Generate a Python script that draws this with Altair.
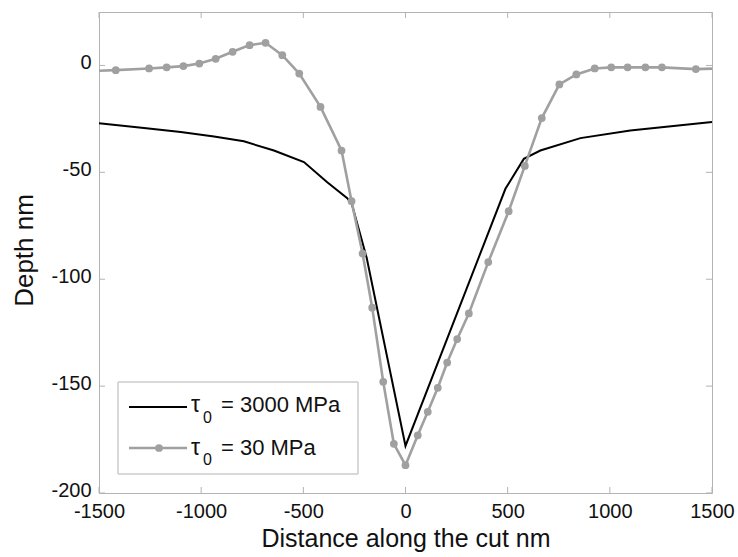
import altair as alt
import pandas as pd

# ---------------- data ----------------
x_ticks = [-1500, -1000, -500, 0, 500, 1000, 1500]
y_ticks = [-200, -150, -100, -50, 0]

black_x = [-1500, -1280, -1100, -937, -791, -644, -497, -383, -285, -262, -190,
           0, 489, 579, 660, 856, 1100, 1500]
black_y = [-27.0, -29.3, -31.1, -33.2, -35.5, -39.8, -45.2, -54.6, -62.1, -65.0, -90.0,
           -178.0, -57.7, -43.7, -39.8, -34.0, -30.4, -26.4]

gray_x = [-1500, -1418, -1255, -1169, -1087, -1009, -929, -846, -763, -685, -603,
          -520, -416, -313, -264, -210, -163, -109, -57, 0,
          60, 109, 158, 204, 253, 310, 405, 505, 584, 667, 753, 836, 926,
          1007, 1087, 1174, 1255, 1421, 1500]
gray_y = [-2.5, -2.2, -1.4, -0.9, -0.3, 0.9, 3.1, 6.4, 9.5, 10.6, 4.8,
          -3.8, -19.4, -39.8, -63.5, -88.0, -113.3, -148.0, -177.0, -187.0,
          -173.0, -162.0, -150.8, -139.0, -128.0, -116.0, -92.0, -68.2, -47.0, -24.6, -8.9, -4.2, -1.4,
          -0.9, -0.9, -0.9, -0.9, -1.7, -1.5]
gray_marker = [False] + [True] * (len(gray_x) - 2) + [False]

legend_labels = ["= 3000 MPa", "= 30 MPa"]

# ---------------- styles ----------------
W, H = 613, 481
FONT = "Liberation Sans"
GRAY = "#a0a0a0"
FRAME = "#b3b3b3"
TXT = "#111111"

xs = alt.Scale(domain=[-1500, 1500], nice=False, zero=False)
ys = alt.Scale(domain=[-200, 25], nice=False, zero=False)

LBL = "replace(datum.label, '\u2212', '-')"

xaxis = alt.Axis(values=x_ticks, domain=False, ticks=False, grid=False,
                 labelFontSize=20, labelFont=FONT, labelColor=TXT, labelPadding=8,
                 format="d", labelExpr=LBL, labelFlush=False, labelOverlap=False,
                 title="Distance along the cut nm", titleFont=FONT, titleFontSize=25,
                 titleFontWeight="normal", titleColor=TXT, titleY=53,
                 titleBaseline="alphabetic")
yaxis = alt.Axis(values=y_ticks, domain=False, ticks=False, grid=False,
                 labelFontSize=20, labelFont=FONT, labelColor=TXT, labelPadding=8,
                 labelOffset=-3,
                 format="d", labelExpr=LBL, labelFlush=False, labelOverlap=False,
                 title="Depth nm", titleFont=FONT, titleFontSize=26,
                 titleFontWeight="normal", titleColor=TXT, titleX=-67, titleY=238,
                 titleAngle=270, titleAlign="center", titleBaseline="alphabetic")

df_black = pd.DataFrame({"x": black_x, "y": black_y, "o": range(len(black_x))})
df_gray = pd.DataFrame({"x": gray_x, "y": gray_y, "m": gray_marker, "o": range(len(gray_x))})
df_xt = pd.DataFrame({"x": x_ticks})
df_yt = pd.DataFrame({"y": y_ticks})
one = pd.DataFrame({"a": [0]})

X = alt.X("x:Q", scale=xs, axis=xaxis)
Y = alt.Y("y:Q", scale=ys, axis=yaxis)

black_line = alt.Chart(df_black).mark_line(color="black", strokeWidth=2).encode(
    x=X, y=Y, order="o:Q")

gray_line = alt.Chart(df_gray).mark_line(color=GRAY, strokeWidth=2.6).encode(
    x=X, y=Y, order="o:Q")

gray_pts = alt.Chart(df_gray).transform_filter("datum.m").mark_circle(
    color=GRAY, size=60, opacity=1).encode(x=X, y=Y)

tb = alt.Chart(df_xt).mark_rule(color=FRAME, strokeWidth=1).encode(
    x=X, y=alt.value(H), y2=alt.value(H - 6))
tt = alt.Chart(df_xt).mark_rule(color=FRAME, strokeWidth=1).encode(
    x=X, y=alt.value(0), y2=alt.value(6))
tl = alt.Chart(df_yt).mark_rule(color=FRAME, strokeWidth=1).encode(
    y=Y, x=alt.value(0), x2=alt.value(6))
tr = alt.Chart(df_yt).mark_rule(color=FRAME, strokeWidth=1).encode(
    y=Y, x=alt.value(W), x2=alt.value(W - 6))

# ---------------- legend ----------------
box = alt.Chart(one).mark_rect(fill="white", stroke=FRAME, strokeWidth=1).encode(
    x=alt.value(19), x2=alt.value(259), y=alt.value(370), y2=alt.value(462))
l1 = alt.Chart(one).mark_rule(color="black", strokeWidth=2).encode(
    x=alt.value(30), x2=alt.value(88), y=alt.value(395))
l2 = alt.Chart(one).mark_rule(color=GRAY, strokeWidth=2.6).encode(
    x=alt.value(30), x2=alt.value(88), y=alt.value(436))
l2p = alt.Chart(one).mark_circle(color=GRAY, size=60, opacity=1).encode(
    x=alt.value(60), y=alt.value(436))

def txt(s, x, y, size):
    return alt.Chart(one).mark_text(text=s, align="left", baseline="alphabetic",
                                    font=FONT, fontSize=size, color=TXT).encode(
        x=alt.value(x), y=alt.value(y))

leg = [box, l1, l2, l2p,
       txt("τ", 92, 400, 23), txt("0", 104, 411, 16), txt(legend_labels[0], 122, 400, 22),
       txt("τ", 92, 443, 23), txt("0", 104, 453, 16), txt(legend_labels[1], 122, 443, 22)]

chart = alt.layer(black_line, gray_line, gray_pts, tb, tt, tl, tr, *leg).properties(
    width=W, height=H,
    autosize=alt.AutoSizeParams(type="none"),
    padding={"left": 99, "top": 12, "right": 26, "bottom": 64},
    background="white",
).configure_view(stroke=FRAME, strokeWidth=1)

chart.save("out.html", embed_options={"renderer": "svg", "actions": False})
